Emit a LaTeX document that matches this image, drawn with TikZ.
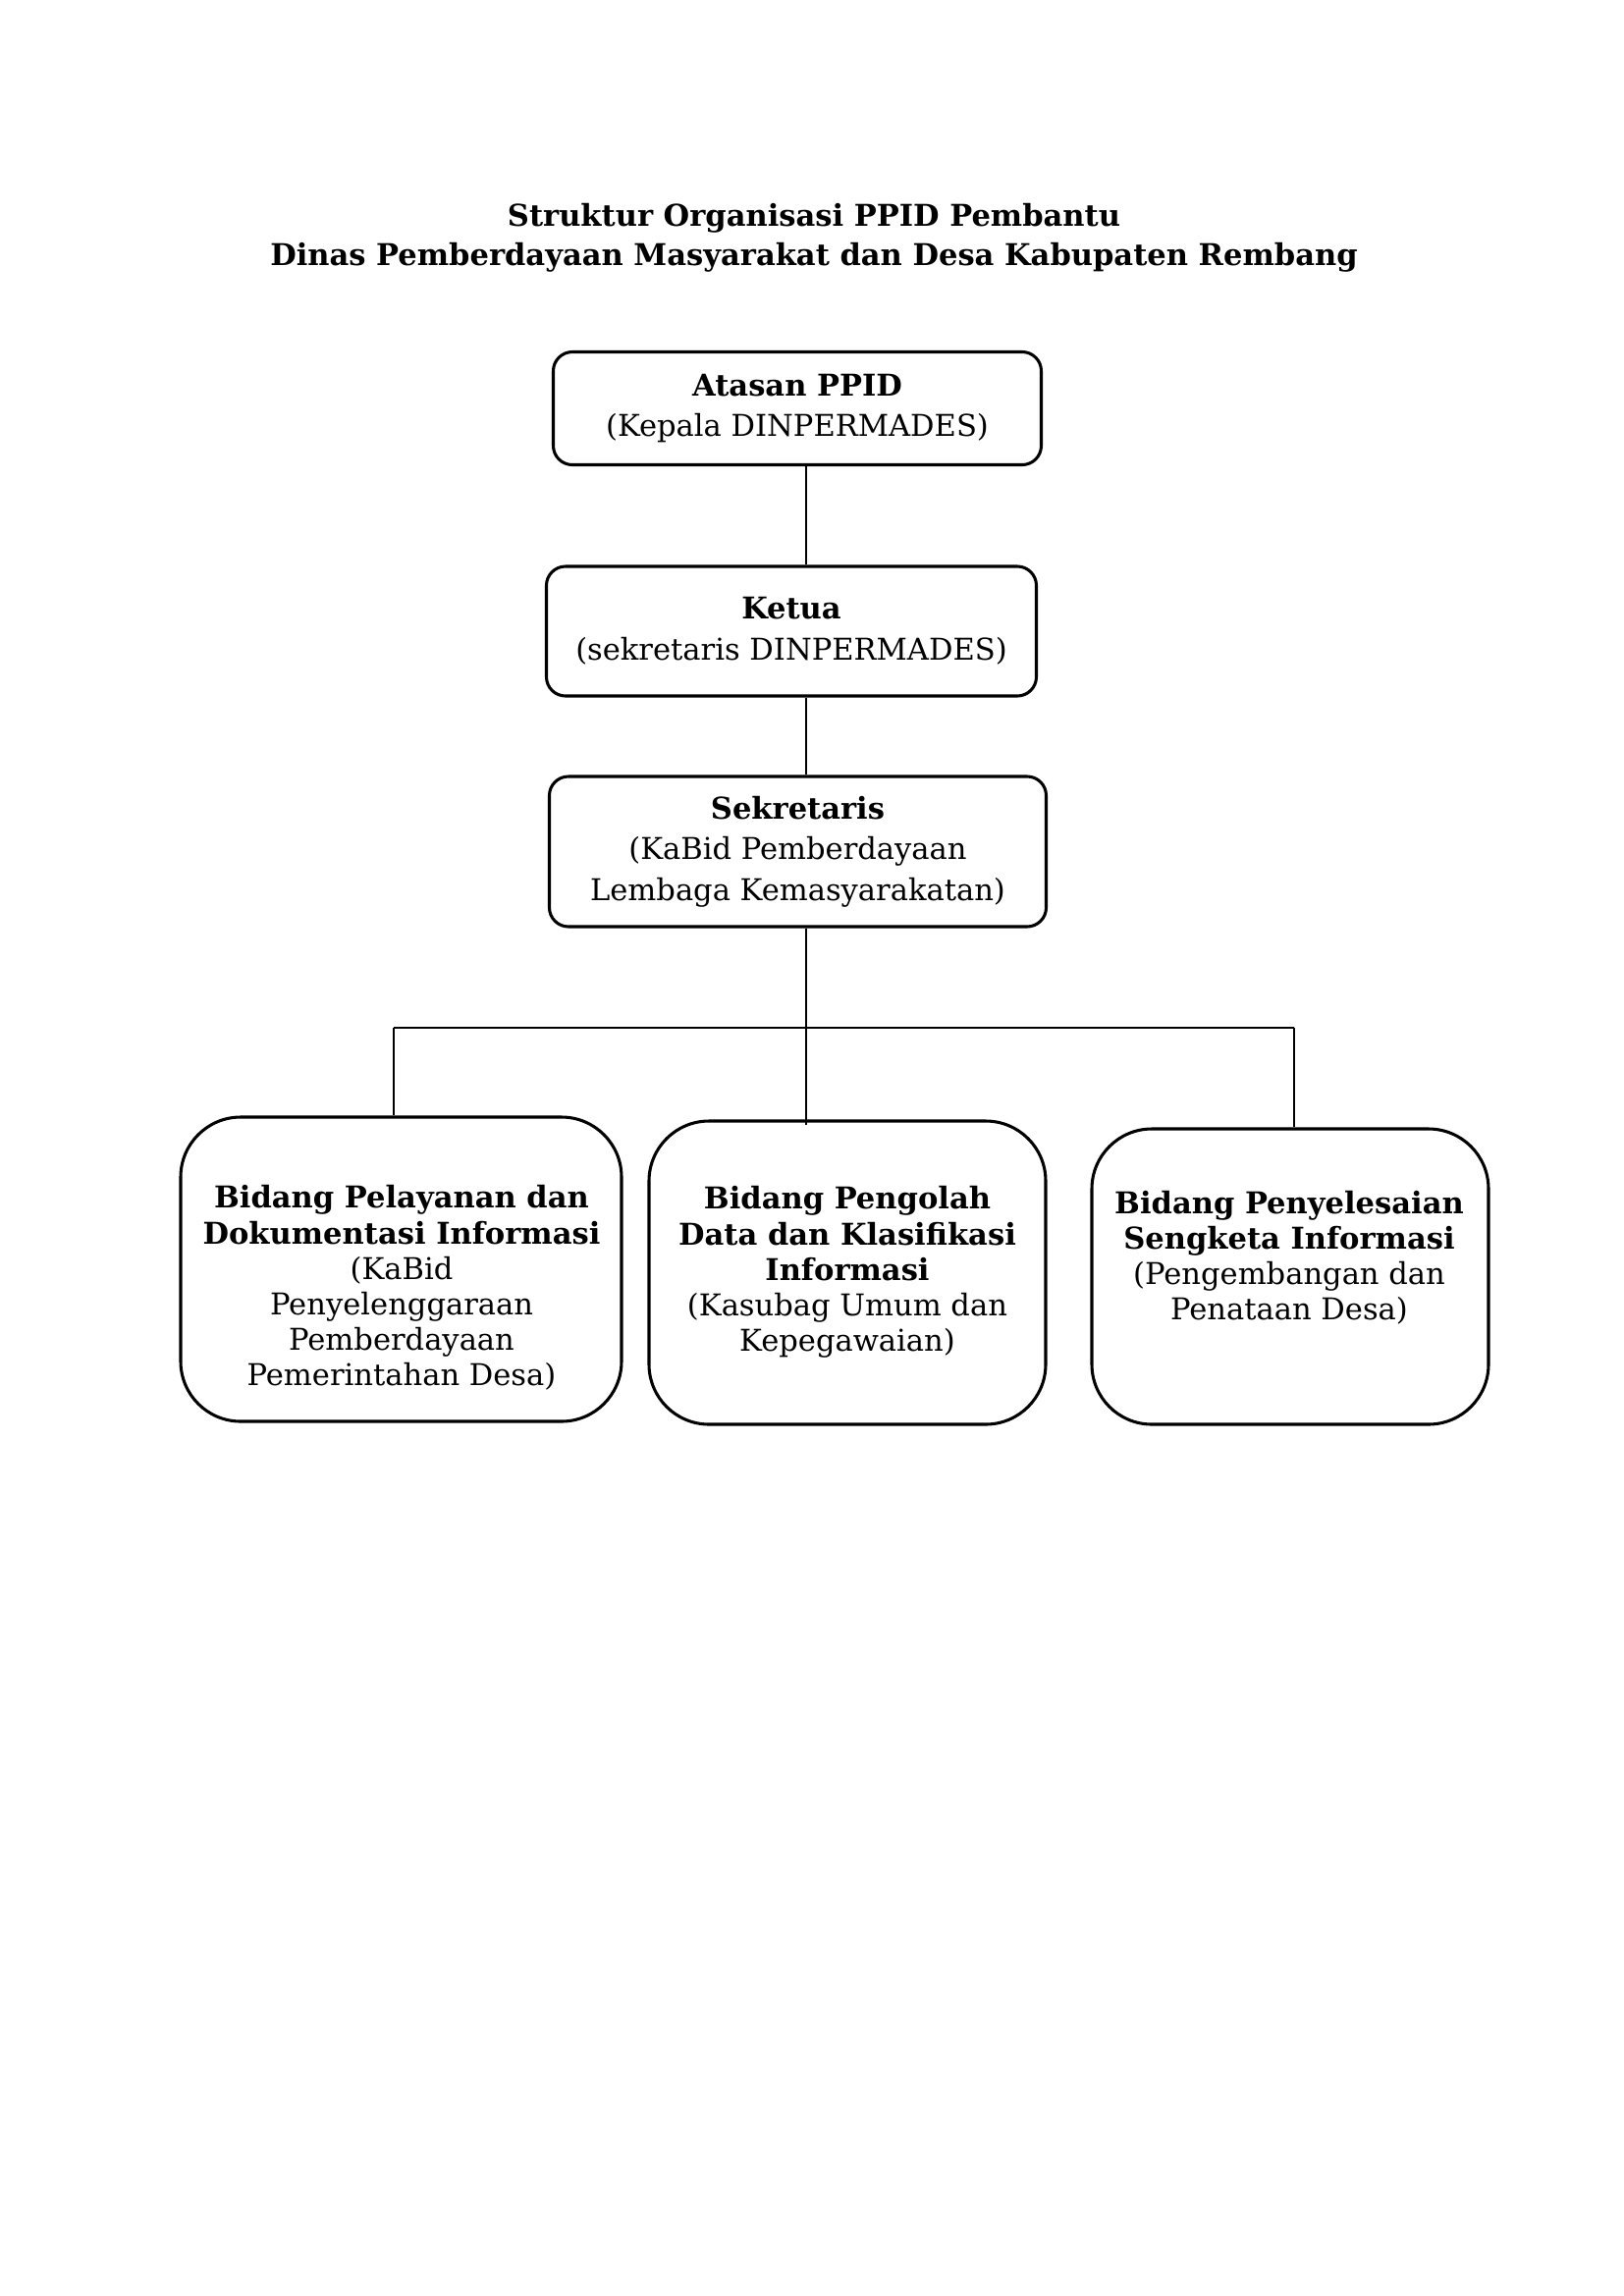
\documentclass[tikz,border=0pt]{standalone}
\usepackage{fontspec}
\setmainfont{DejaVu Serif}
\begin{document}
\begin{tikzpicture}[x=0.3599pt,y=-0.3599pt,
  box/.style={draw,line width=1.1pt,rounded corners=7pt,inner sep=0pt,align=center,font=\fontsize{11}{15}\selectfont},
  bigbox/.style={draw,line width=1.1pt,rounded corners=22pt,inner sep=0pt},
  btxt/.style={align=center,inner sep=0pt,font=\fontsize{11}{13}\selectfont},
  conn/.style={line width=0.7pt}]
\useasboundingbox (0,0) rectangle (1654,2339);
\node[align=center,inner sep=0pt,font=\bfseries\fontsize{11}{14.4}\selectfont] (title) at (829,242)
  {Struktur Organisasi PPID Pembantu\\Dinas Pemberdayaan Masyarakat dan Desa Kabupaten Rembang};
\node[box,minimum width={497*0.3599pt},minimum height={115*0.3599pt}] (atasan) at (812,416)
  {\textbf{Atasan PPID}\\(Kepala DINPERMADES)};
\node[box,minimum width={499*0.3599pt},minimum height={132*0.3599pt}] (ketua) at (806,643)
  {\textbf{Ketua}\\(sekretaris DINPERMADES)};
\node[box,minimum width={506*0.3599pt},minimum height={153*0.3599pt}] (sek) at (812.5,867.5)
  {\textbf{Sekretaris}\\(KaBid Pemberdayaan\\Lembaga Kemasyarakatan)};
\node[bigbox,minimum width={449*0.3599pt},minimum height={310*0.3599pt}] (b1) at (408.5,1293) {};
\node[btxt] (b1t) at (409,1312)
  {\textbf{Bidang Pelayanan dan}\\\textbf{Dokumentasi Informasi}\\(KaBid\\Penyelenggaraan\\Pemberdayaan\\Pemerintahan Desa)};
\node[bigbox,minimum width={404*0.3599pt},minimum height={309*0.3599pt}] (b2) at (863,1296.5) {};
\node[btxt] (b2t) at (863,1296)
  {\textbf{Bidang Pengolah}\\\textbf{Data dan Klasifikasi}\\\textbf{Informasi}\\(Kasubag Umum dan\\Kepegawaian)};
\node[bigbox,minimum width={404*0.3599pt},minimum height={301*0.3599pt}] (b3) at (1314,1300.5) {};
\node[btxt] (b3t) at (1313,1281)
  {\textbf{Bidang Penyelesaian}\\\textbf{Sengketa Informasi}\\(Pengembangan dan\\Penataan Desa)};
\coordinate (spine) at (821,1047);
\coordinate (hl) at (401,1047);
\coordinate (hr) at (1318,1047);
\coordinate (mid) at (821,1146);
\draw[conn] (atasan.south -| spine) -- (ketua.north -| spine);
\draw[conn] (ketua.south -| spine) -- (sek.north -| spine);
\draw[conn] (sek.south -| spine) -- (mid);
\draw[line width=1pt] (hl) -- (hr);
\draw[conn] (hl) -- (b1.north -| hl);
\draw[conn] (hr) -- (b3.north -| hr);
\end{tikzpicture}
\end{document}
